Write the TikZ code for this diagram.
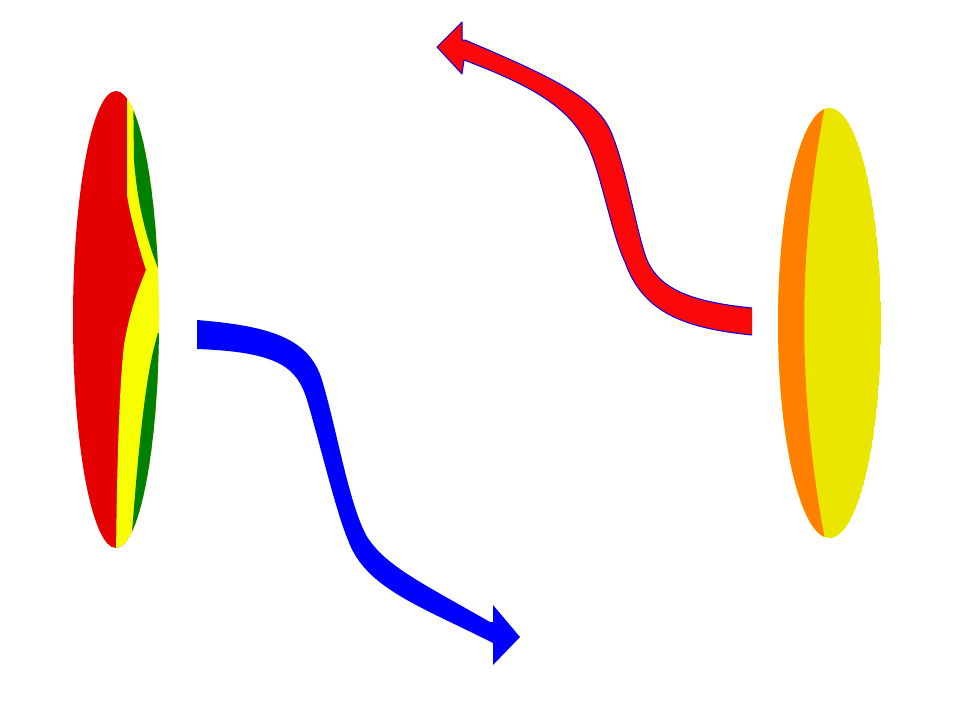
\documentclass[tikz,border=0pt]{standalone}
\usepackage{tikz}

\definecolor{rougeG}{RGB}{228,0,0}
\definecolor{jauneG}{RGB}{247,255,0}
\definecolor{vertG}{RGB}{0,128,0}
\definecolor{orangeD}{RGB}{255,128,0}
\definecolor{jauneD}{RGB}{234,230,0}
\definecolor{rougeF}{RGB}{250,8,8}

\begin{document}
\begin{tikzpicture}[x=1pt,y=-1pt]
  % Cadre
  \useasboundingbox (0,0) rectangle (979,704);

  % Disque de gauche
  \begin{scope}
    \clip (116,319.5) ellipse (43 and 228.5);
    \fill[rougeG] (116,319.5) ellipse (43 and 228.5);
    \fill[jauneG] (127,80) -- (127,195) .. controls (130,215) and (138,245) .. (146,270)
      .. controls (138,290) and (130,310) .. (124,345)
      .. controls (120,380) and (117,450) .. (116,560) -- (170,560) -- (170,80) -- cycle;
    \fill[vertG] (133,80) -- (134,160) .. controls (137,200) and (145,235) .. (158,268)
      -- (170,268) -- (170,80) -- cycle;
    \fill[vertG] (170,333) -- (158,333) .. controls (148,365) and (140,420) .. (130,560)
      -- (170,560) -- cycle;
  \end{scope}

  % Disque de droite
  \begin{scope}
    \clip (829.5,323) ellipse (51.5 and 215);
    \fill[jauneD] (829.5,323) ellipse (51.5 and 215);
    \fill[orangeD] (826,100) .. controls (797,250) and (797,395) .. (826,545)
      -- (770,545) -- (770,100) -- cycle;
  \end{scope}

  % Fleche bleue (aller)
  \fill[blue] (197,320) .. controls (270,326) and (309,338) .. (322,380)
    .. controls (337,430) and (348,500) .. (366,535)
    .. controls (384,565) and (420,582) .. (490,622)
    -- (493,622) -- (493,605) -- (520,637) -- (493,665) -- (493,643)
    .. controls (420,606) and (365,588) .. (348,540)
    .. controls (336,512) and (319,440) .. (307,400)
    .. controls (297,368) and (280,352) .. (197,349) -- cycle;

  % Fleche rouge (retour)
  \filldraw[fill=rougeF, draw=blue, line width=1pt, line join=round]
    (752,308) .. controls (693,302) and (660,290) .. (647,260)
    .. controls (637,235) and (627,170) .. (611,132)
    .. controls (597,100) and (560,80) .. (465,40)
    -- (462,40) -- (462,22) -- (437,47) -- (462,74) -- (464,60)
    .. controls (538,88) and (572,110) .. (589,148)
    .. controls (602,178) and (612,235) .. (625,262)
    .. controls (642,310) and (680,328) .. (752,335);
\end{tikzpicture}
\end{document}
